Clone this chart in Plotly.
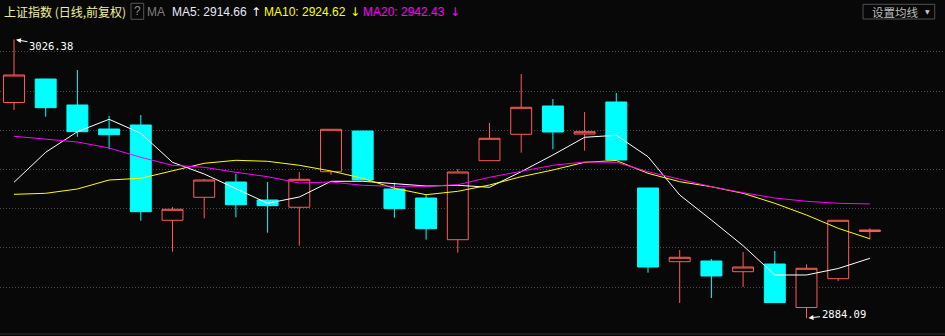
import plotly.graph_objects as go

# ---------------- data ----------------
day_index = list(range(28))
opens = [2994.22, 3006.21, 2992.94, 2980.68, 2982.73, 2934.07, 2945.81, 2953.62, 2944.43, 2940.71,
         2958.88, 2979.66, 2950.05, 2945.45, 2924.16, 2964.50, 2977.98, 2992.43, 2978.13, 2994.47,
         2950.56, 2912.93, 2913.29, 2907.82, 2911.75, 2889.54, 2904.25, 2928.35]
highs = [3026.38, 3006.30, 3010.81, 2987.32, 2987.83, 2940.86, 2955.15, 2957.71, 2953.62, 2958.73,
         2980.53, 2979.66, 2953.27, 2946.99, 2960.26, 2983.75, 3008.77, 2996.00, 2989.36, 2999.07,
         2950.56, 2918.90, 2914.31, 2917.88, 2918.39, 2911.60, 2934.07, 2929.98]
lows = [2990.39, 2986.97, 2976.75, 2970.32, 2933.86, 2918.03, 2935.09, 2935.60, 2927.74, 2921.10,
        2957.35, 2954.64, 2935.40, 2924.16, 2917.52, 2964.50, 2968.58, 2970.32, 2969.60, 2964.86,
        2907.31, 2891.84, 2894.39, 2900.01, 2891.84, 2884.09, 2903.07, 2924.37]
closes = [3008.26, 2991.56, 2979.31, 2977.77, 2938.46, 2939.68, 2954.64, 2942.03, 2941.52, 2955.00,
          2980.53, 2954.64, 2939.99, 2929.78, 2958.73, 2975.94, 2991.76, 2979.15, 2979.31, 2964.86,
          2910.22, 2915.18, 2905.63, 2910.22, 2892.10, 2909.56, 2934.07, 2929.11]

ma5 = [2953.47, 2968.79, 2979.31, 2985.64, 2978.49, 2963.68, 2957.71, 2950.41, 2942.75, 2945.96,
       2953.98, 2953.98, 2952.96, 2951.58, 2951.94, 2950.92, 2958.88, 2967.41, 2976.45, 2977.47,
       2966.54, 2946.99, 2934.22, 2921.10, 2906.14, 2906.14, 2909.46, 2914.66]
ma10 = [2947.34, 2947.85, 2950.05, 2954.64, 2955.51, 2959.24, 2963.17, 2964.70, 2964.19, 2962.15,
        2959.24, 2955.51, 2950.41, 2947.14, 2948.87, 2952.09, 2956.33, 2959.75, 2963.68, 2964.60,
        2958.06, 2953.78, 2951.22, 2947.85, 2942.75, 2936.77, 2929.98, 2924.62]
ma20 = [2976.96, 2975.58, 2974.05, 2970.98, 2966.23, 2962.15, 2961.13, 2958.58, 2956.33, 2953.11,
        2953.62, 2951.94, 2951.43, 2951.43, 2952.25, 2956.02, 2959.09, 2962.15, 2963.84, 2963.68,
        2958.88, 2955.00, 2951.22, 2948.16, 2945.45, 2943.77, 2942.75, 2942.43]

grid_levels = [2900, 2920, 2940, 2960, 2980, 3000, 3020]
title_text = "上证指数 (日线,前复权)"
button_text = "设置均线"

# ---------------- style ----------------
BG = "#080808"
RED = "#ff5b5b"
CYAN = "#00ffff"
W, H = 945, 336
PLOT_TOP, PLOT_BOTTOM = 30, 334


def px(x):
    return x / W


def py(y):
    return (H - y) / H


fig = go.Figure()
fig.add_trace(go.Candlestick(
    x=day_index, open=opens, high=highs, low=lows, close=closes,
    increasing=dict(line=dict(color=RED, width=1), fillcolor=BG),
    decreasing=dict(line=dict(color=CYAN, width=1), fillcolor=CYAN),
    whiskerwidth=0, hoverinfo="skip",
))
for vals, col in ((ma5, "#ffffff"), (ma10, "#ffff00"), (ma20, "#ff00ff")):
    fig.add_trace(go.Scatter(x=day_index, y=vals, mode="lines",
                             line=dict(color=col, width=1), hoverinfo="skip"))

fig.update_layout(
    width=W, height=H, margin=dict(l=0, r=0, t=0, b=0),
    paper_bgcolor=BG, plot_bgcolor=BG, showlegend=False,
    boxgap=0.34, boxgroupgap=0, hovermode=False,
    xaxis=dict(range=[-0.4416, 29.369], showgrid=False, zeroline=False,
               showticklabels=False, rangeslider=dict(visible=False), fixedrange=True),
    yaxis=dict(range=[2876.01, 3031.23], domain=[py(PLOT_BOTTOM), py(PLOT_TOP)],
               tickvals=grid_levels, showticklabels=False, zeroline=False,
               showgrid=True, gridcolor="#4a4a4a", griddash="1px,2px", gridwidth=1,
               fixedrange=True),
    font=dict(family="Liberation Sans, Noto Sans CJK SC", size=12),
)

# high / low markers
hi_i = max(day_index, key=lambda i: highs[i])
lo_i = min(day_index, key=lambda i: lows[i])
mono = dict(family="DejaVu Sans Mono", size=10.5, color="#ffffff")
fig.add_annotation(x=hi_i, y=highs[hi_i], xref="x", yref="y", text=f"{highs[hi_i]:.2f}",
                   showarrow=True, ax=37, ay=6, arrowhead=2, arrowsize=1, arrowwidth=1,
                   arrowcolor="#ffffff", standoff=2, font=mono)
fig.add_annotation(x=lo_i, y=lows[lo_i], xref="x", yref="y", text=f"{lows[lo_i]:.2f}",
                   showarrow=True, ax=37, ay=-4, arrowhead=2, arrowsize=1, arrowwidth=1,
                   arrowcolor="#ffffff", standoff=2, font=mono)

# header
hy = py(12)
header = [
    (title_text, 3, "#f0f0a0", "Noto Sans CJK SC, Liberation Sans"),
    ("MA", 146, "#7f7f7f", None),
    (f"MA5: {ma5[-1]:.2f}", 170.5, "#e8e8f8", None),
    ("↑", 250, "#ffffff", "DejaVu Sans"),
    (f"MA10: {ma10[-1]:.2f}", 262.5, "#ffff00", None),
    ("↓", 348.5, "#ffff00", "DejaVu Sans"),
    (f"MA20: {ma20[-1]:.2f}", 361.5, "#ff00ff", None),
    ("↓", 448.5, "#ff00ff", "DejaVu Sans"),
]
for txt, x0, col, fam in header:
    f = dict(color=col, size=12)
    if fam:
        f["family"] = fam
    fig.add_annotation(x=px(x0), y=hy, xref="paper", yref="paper", text=txt, showarrow=False,
                       xanchor="left", yanchor="middle", font=f, borderpad=0)

# "?" box
fig.add_shape(type="rect", xref="paper", yref="paper", x0=px(131), x1=px(143.7),
              y0=py(19.3), y1=py(3.3), line=dict(color="#555555", width=1))
fig.add_annotation(x=px(137.3), y=py(11.3), xref="paper", yref="paper", text="?",
                   showarrow=False, xanchor="center", yanchor="middle", borderpad=0,
                   font=dict(color="#8a8a8a", size=12, family="Liberation Sans"))

# button
fig.add_shape(type="rect", xref="paper", yref="paper", x0=px(863), x1=px(934.7),
              y0=py(19), y1=py(4.3), line=dict(color="#505050", width=1))
fig.add_annotation(x=px(870.5), y=py(11.8), xref="paper", yref="paper", text=button_text,
                   showarrow=False, xanchor="left", yanchor="middle", borderpad=0,
                   font=dict(color="#bdbdbd", size=11.5, family="Noto Sans CJK SC"))
fig.add_annotation(x=px(927.5), y=py(11.3), xref="paper", yref="paper", text="▼",
                   showarrow=False, xanchor="center", yanchor="middle", borderpad=0,
                   font=dict(color="#c8c8c8", size=6, family="DejaVu Sans"))

# bottom border
fig.add_shape(type="line", xref="paper", yref="paper", x0=0, x1=1, y0=py(334), y1=py(334),
              line=dict(color="#2e2e2e", width=1))

fig.write_html("out.html")
